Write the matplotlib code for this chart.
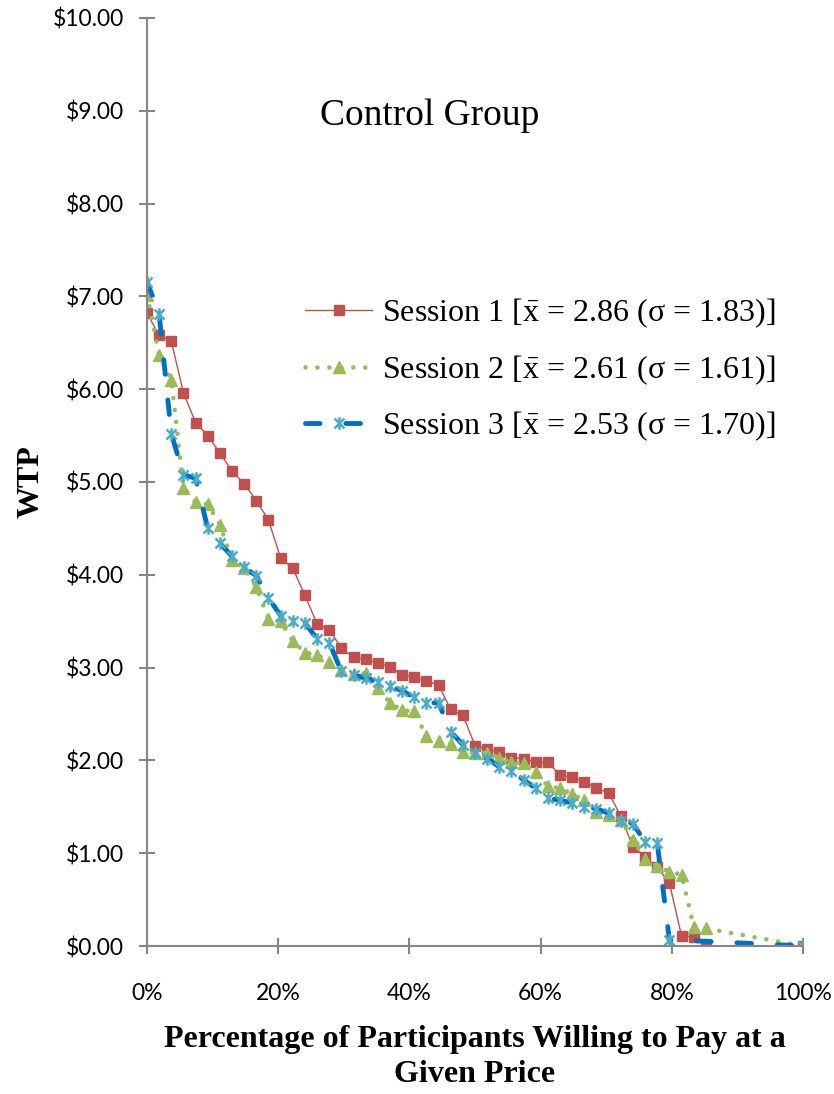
import matplotlib
matplotlib.use("Agg")
import matplotlib.pyplot as plt
from matplotlib.path import Path
from matplotlib.ticker import FuncFormatter, MultipleLocator

# each step on the x axis is one participant out of 54
step = 100 / 54

# WTP values, sorted high to low (the last point sits at 100%, $0)
session1_wtp = [6.82, 6.58, 6.52, 5.96, 5.64, 5.50, 5.31, 5.12, 4.98, 4.80,
                4.59, 4.18, 4.07, 3.78, 3.47, 3.41, 3.21, 3.11, 3.09, 3.05,
                3.01, 2.92, 2.90, 2.86, 2.81, 2.55, 2.49, 2.16, 2.12, 2.09,
                2.03, 2.02, 1.98, 1.98, 1.84, 1.82, 1.77, 1.70, 1.65, 1.40,
                1.07, 0.96, 0.85, 0.68, 0.11, 0.10, 0.00]
session2_wtp = [7.02, 6.37, 6.10, 4.94, 4.78, 4.76, 4.54, 4.16, 4.07, 3.87,
                3.52, 3.50, 3.29, 3.16, 3.14, 3.06, 2.97, 2.93, 2.94, 2.78,
                2.62, 2.54, 2.53, 2.26, 2.21, 2.18, 2.09, 2.08, 2.08, 2.03,
                1.98, 1.97, 1.88, 1.72, 1.70, 1.64, 1.57, 1.44, 1.41, 1.36,
                1.14, 0.94, 0.86, 0.80, 0.77, 0.21, 0.19]
session3_wtp = [7.16, 6.81, 5.52, 5.08, 5.04, 4.50, 4.34, 4.20, 4.08, 3.99,
                3.75, 3.56, 3.50, 3.48, 3.31, 3.27, 2.96, 2.92, 2.89, 2.84,
                2.80, 2.75, 2.68, 2.62, 2.62, 2.31, 2.17, 2.08, 2.02, 1.93,
                1.89, 1.79, 1.70, 1.59, 1.57, 1.54, 1.50, 1.48, 1.43, 1.35,
                1.32, 1.12, 1.11, 0.07]

xbar = r"$\bar{\mathrm{x}}$"
labels = [f"Session 1 [{xbar} = 2.86 (\u03c3 = 1.83)]",
          f"Session 2 [{xbar} = 2.61 (\u03c3 = 1.61)]",
          f"Session 3 [{xbar} = 2.53 (\u03c3 = 1.70)]"]


def pct(values):
    return [i * step for i in range(len(values))] + [100]


# excel style star marker: an x with a vertical bar through it
star = Path([(-1, -1), (1, 1), (-1, 1), (1, -1), (0, -1.25), (0, 1.25)],
            [Path.MOVETO, Path.LINETO] * 3)

serif = "Liberation Serif"
sans = "Lato"
axis_grey = "#868686"

plt.rcParams["mathtext.fontset"] = "custom"
plt.rcParams["mathtext.rm"] = serif
plt.rcParams["mathtext.it"] = serif + ":italic"

fig = plt.figure(figsize=(8.34, 10.94), dpi=100)
ax = fig.add_axes([147 / 834, 1 - 946 / 1094, 656 / 834, 928 / 1094])

ax.plot(pct(session1_wtp), session1_wtp + [0], color="#C0504D", lw=1.0,
        marker="s", ms=6.5, mfc="#C0504D", mec="#C0504D", label=labels[0])
ax.plot(pct(session2_wtp), session2_wtp + [0], color="#9BBB59", lw=3.3,
        linestyle=(0, (0.01, 2.6)), dash_capstyle="round",
        marker="^", ms=8, mfc="#9BBB59", mec="#9BBB59", label=labels[1])
ax.plot(pct(session3_wtp), session3_wtp + [0], color="#0070C0", lw=3.5,
        linestyle=(0, (3, 5.3)), dash_capstyle="round",
        marker=star, ms=9, mec="#4BACC6", mew=1.8, label=labels[2])

ax.set_xlim(0, 100)
ax.set_ylim(0, 10)
ax.xaxis.set_major_locator(MultipleLocator(20))
ax.yaxis.set_major_locator(MultipleLocator(1))
ax.xaxis.set_major_formatter(FuncFormatter(lambda v, p: f"{v:.0f}%"))
ax.yaxis.set_major_formatter(FuncFormatter(lambda v, p: f"${v:.2f}"))

for side in ["top", "right"]:
    ax.spines[side].set_visible(False)
for side in ["left", "bottom"]:
    ax.spines[side].set_color(axis_grey)
    ax.spines[side].set_linewidth(1.5)

ax.tick_params(axis="both", direction="inout", length=11, width=1.5,
               color=axis_grey, labelsize=16.5, labelfontfamily=sans)
ax.tick_params(axis="y", pad=11)
ax.tick_params(axis="x", pad=21)

ax.set_ylabel("WTP", fontfamily=serif, fontweight="bold", fontsize=23,
              labelpad=5)
ax.set_xlabel("Percentage of Participants Willing to Pay at a\nGiven Price",
              fontfamily=serif, fontweight="bold", fontsize=23, labelpad=15,
              linespacing=1.27)

ax.text(43.1, 8.95, "Control Group", fontfamily=serif, fontsize=27,
        ha="center", va="center")

ax.legend(loc="upper left", bbox_to_anchor=(0.241, 0.700), frameon=False,
          prop={"family": serif, "size": 23}, borderpad=0, borderaxespad=0,
          handlelength=2.1, handletextpad=0.3, labelspacing=0.72, numpoints=1)

fig.savefig("out.png", dpi=100)
